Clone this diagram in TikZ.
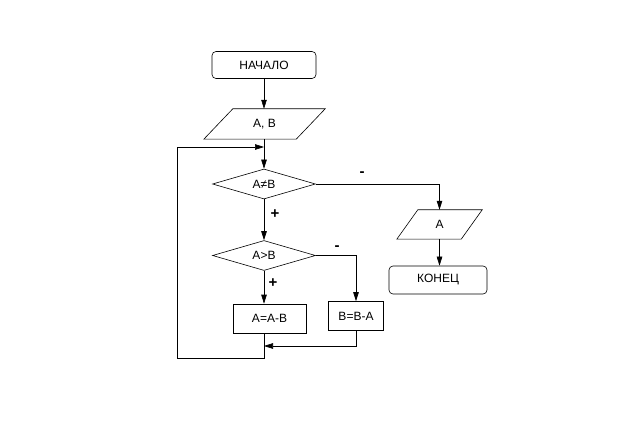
\documentclass[tikz,border=0pt]{standalone}
\usepackage{fontspec}
\setmainfont{Liberation Sans}
\usetikzlibrary{arrows.meta,shapes.geometric}
\begin{document}
\begin{tikzpicture}[x=1pt,y=-1pt,
  every node/.style={font=\fontsize{12}{14}\selectfont, inner sep=0pt},
  ln/.style={line width=0.6pt, draw=black},
  arr/.style={ln, -{Triangle[length=9pt,width=5.5pt]}},
  term/.style={ln, rounded corners=4pt, minimum width=104pt, minimum height=27pt},
  proc/.style={ln, minimum height=29pt},
  dec/.style={ln, diamond, aspect=3.5, minimum width=103pt, minimum height=30pt},
  iobox/.style={minimum height=30pt},
  lab/.style={font=\fontsize{15}{17}\selectfont\bfseries}
]
\useasboundingbox (0,0) rectangle (620,435);
% nodes
\node[term] (start) at (264,65) {НАЧАЛО};
\node[iobox, minimum width=121pt] (inAB) at (264.5,124) {A, B};
\draw[ln] ([xshift=29pt]inAB.north west) -- (inAB.north east) -- ([xshift=-29pt]inAB.south east) -- (inAB.south west) -- cycle;
\node[dec] (d1) at (264,184) {A≠B};
\node[dec] (d2) at (264,255.5) {A>B};
\node[proc, minimum width=73pt] (a1) at (269.5,318.5) {A=A-B};
\node[proc, minimum width=55pt] (b1) at (356,316) {B=B-A};
\node[iobox, minimum width=85pt, minimum height=29pt] (outA) at (439.5,224.5) {A};
\draw[ln] ([xshift=21pt]outA.north west) -- (outA.north east) -- ([xshift=-21pt]outA.south east) -- (outA.south west) -- cycle;
\node[term, minimum width=98pt, minimum height=28pt] (stop) at (438,280) {КОНЕЦ};
% coordinates
\coordinate (jt) at (264,147);
\coordinate (lt) at (177,147);
\coordinate (ll) at (177,358);
\coordinate (lb) at (264,358);
\coordinate (jr) at (264,346);
% connectors
\draw[arr] (start.south) -- (start.south |- inAB.north);
\draw[arr] (inAB.south -| d1.north) -- (d1.north);
\draw[arr] (d1.east) -| (outA.north);
\draw[arr] (outA.south) -- (outA.south |- stop.north);
\draw[arr] (d1.south) -- (d2.north);
\draw[arr] (d2.east) -| (b1.north);
\draw[arr] (d2.south) -- (d2.south |- a1.north);
\draw[ln] (a1.south -| lb) -- (lb) -- (ll) -- (lt);
\draw[arr] (lt) -- (jt);
\draw[arr] (b1.south) |- (jr);
% labels
\node[lab] (m1) at (362,174) {-};
\node[lab] (p1) at (275,214) {+};
\node[lab] (m2) at (337,248) {-};
\node[lab] (p2) at (273,283) {+};
\end{tikzpicture}
\end{document}
